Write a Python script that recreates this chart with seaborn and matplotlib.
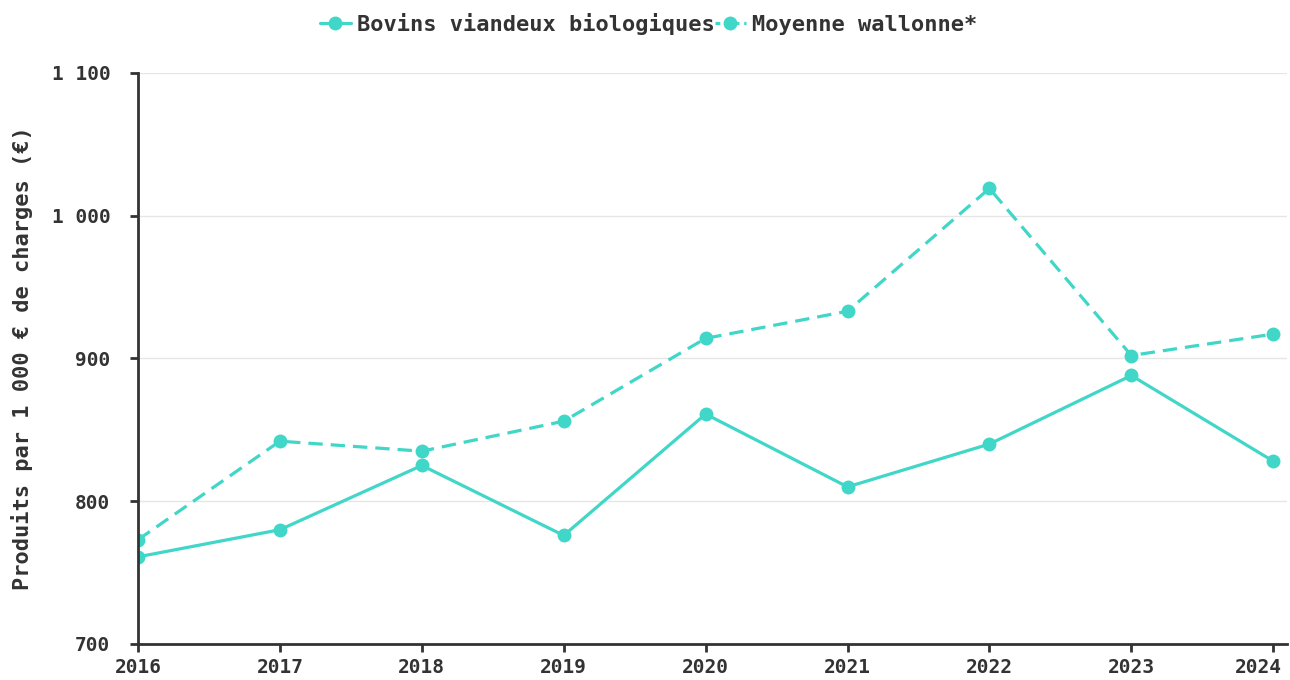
import matplotlib
matplotlib.use("Agg")
import matplotlib.pyplot as plt
import matplotlib.transforms as mtransforms
import seaborn as sns
import pandas as pd
from matplotlib.ticker import FuncFormatter

years = [2016, 2017, 2018, 2019, 2020, 2021, 2022, 2023, 2024]
bio_values = [761, 780, 825, 776, 861, 810, 840, 888, 828]
wallonne_values = [773, 842, 835, 856, 914, 933, 1019, 902, 917]
series_names = ["Bovins viandeux biologiques", "Moyenne wallonne*"]
y_ticks = [700, 800, 900, 1000, 1100]
y_label = "Produits par 1 000 € de charges (€)"

df = pd.DataFrame({
    "Année": years * 2,
    "Valeur": bio_values + wallonne_values,
    "Série": [series_names[0]] * len(years) + [series_names[1]] * len(years),
})

sns.set_theme(style="white")
plt.rcParams["font.family"] = ["DejaVu Sans Mono", "DejaVu Sans"]
plt.rcParams["font.weight"] = "bold"

color = "#40d6c8"
axis_color = "#333333"

fig = plt.figure(figsize=(12.9, 6.8), dpi=100)
ax = fig.add_axes([0.107, 0.053, 0.891, 0.840])

sns.lineplot(
    data=df, x="Année", y="Valeur", style="Série", ax=ax,
    color=color, linewidth=2.3,
    dashes={series_names[0]: "", series_names[1]: (4.5, 2.5)},
    markers={series_names[0]: "o", series_names[1]: "o"},
    markersize=10, markeredgewidth=0, legend=False,
)

ax.set_xlim(2016, 2024.1)
ax.set_ylim(700, 1100)
ax.set_xticks(years)
ax.set_yticks(y_ticks)
ax.yaxis.set_major_formatter(FuncFormatter(lambda v, p: f"{int(v):,}".replace(",", " ")))
ax.grid(axis="y", color="#e6e6e6", linewidth=1)
ax.set_axisbelow(True)

for side in ["top", "right"]:
    ax.spines[side].set_visible(False)
for side in ["left", "bottom"]:
    ax.spines[side].set_color(axis_color)
    ax.spines[side].set_linewidth(2)

ax.tick_params(axis="both", which="major", bottom=True, left=True, length=6, width=2,
               color=axis_color, labelsize=14, labelcolor=axis_color, direction="out", pad=4)
ax.tick_params(axis="y", pad=14)
for lbl in ax.get_xticklabels() + ax.get_yticklabels():
    lbl.set_fontweight("bold")

# keep the last year label inside the figure
last = ax.get_xticklabels()[-1]
last.set_transform(last.get_transform() + mtransforms.ScaledTranslation(-0.15, 0, fig.dpi_scale_trans))

ax.set_xlabel("")
ax.set_ylabel(y_label, fontsize=15.8, fontweight="bold", color=axis_color, labelpad=13)

handles = [
    plt.Line2D([], [], color=color, linewidth=2.3, marker="o", markersize=10,
               markeredgewidth=0, linestyle="-"),
    plt.Line2D([], [], color=color, linewidth=2.3, marker="o", markersize=10,
               markeredgewidth=0, linestyle=(0, (1.5, 1.5))),
]
leg = fig.legend(handles, series_names, loc="upper center", bbox_to_anchor=(0.503, 1.01),
                 ncol=2, frameon=False, handlelength=1.4, handletextpad=0.3,
                 columnspacing=0.0, prop={"family": "DejaVu Sans Mono", "weight": "bold", "size": 15.8})
for t in leg.get_texts():
    t.set_color(axis_color)

fig.savefig("out.png", dpi=100, facecolor="white")
